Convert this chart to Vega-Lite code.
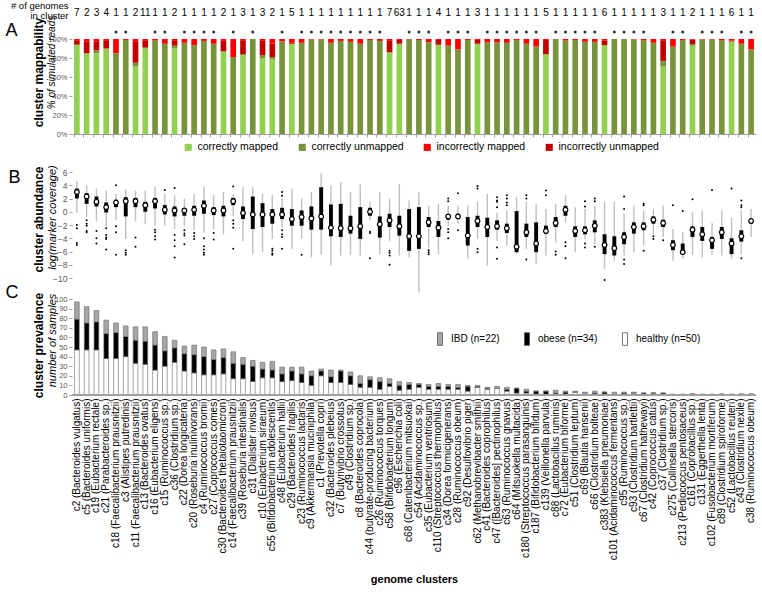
{
  "$schema": "https://vega.github.io/schema/vega-lite/v6.json",
  "padding": {"left": 5, "top": 0, "right": 2, "bottom": 2},
  "bounds": "flush",
  "spacing": 21,
  "resolve": {"scale": {"color": "independent"}, "legend": {"color": "independent"}},
  "config": {
    "font": "Liberation Sans",
    "view": {"stroke": null},
    "axis": {"labelColor": "#595959", "tickColor": "#a0a0a0", "titleColor": "#000000", "grid": false, "labelFont": "Liberation Sans", "titleFont": "Liberation Sans"},
    "legend": {"labelFont": "Liberation Sans", "labelColor": "#000000"}
  },
  "datasets": {
    "cl": [
      {"id":"c2 (Bacteroides vulgatus)","n":7,"star":false,"cm":94,"cu":0,"iu":4,"im":2,"lo":-0.1,"q1":2.0,"med":3.0,"q3":3.5,"hi":4.6,"out":[-2.0,-2.5,-4.7,-5.0],"healthy":47,"obese":32,"ibd":18},
      {"id":"c5 (Bacteroides uniformis)","n":2,"star":false,"cm":85,"cu":0,"iu":12,"im":3,"lo":-0.8,"q1":1.2,"med":2.3,"q3":2.8,"hi":4.0,"out":[-1.3,-1.8,-2.1,-2.9,-3.1],"healthy":47,"obese":28,"ibd":17},
      {"id":"c19 (Eubacterium rectale)","n":3,"star":false,"cm":85,"cu":3,"iu":9,"im":3,"lo":-1.4,"q1":0.8,"med":1.5,"q3":2.3,"hi":3.5,"out":[-2.9,-4.0,-4.8],"healthy":47,"obese":29,"ibd":12},
      {"id":"c21 (Parabacteroides sp.)","n":4,"star":false,"cm":90,"cu":0,"iu":8,"im":2,"lo":-2.2,"q1":-0.1,"med":0.7,"q3":1.4,"hi":3.2,"out":[-2.5,-3.5,-3.9,-4.1,-5.7],"healthy":38,"obese":26,"ibd":14},
      {"id":"c18 (Faecalibacterium prausnitzii)","n":1,"star":true,"cm":0,"cu":85,"iu":0,"im":15,"lo":-1.3,"q1":0.7,"med":1.4,"q3":1.8,"hi":2.7,"out":[4.0,-2.2,-3.1,-6.5],"healthy":38,"obese":27,"ibd":10},
      {"id":"c3 (Alistipes putredinis)","n":1,"star":true,"cm":0,"cu":99,"iu":0,"im":1,"lo":-4.1,"q1":-0.7,"med":1.6,"q3":2.2,"hi":3.4,"out":[-5.8,-6.2,-6.5],"healthy":40,"obese":21,"ibd":11},
      {"id":"c11 (Faecalibacterium prausnitzii)","n":2,"star":false,"cm":71,"cu":4,"iu":22,"im":3,"lo":-1.4,"q1":0.7,"med":1.6,"q3":2.1,"hi":3.2,"out":[-3.9,-5.3],"healthy":33,"obese":24,"ibd":14},
      {"id":"c13 (Bacteroides ovatus)","n":11,"star":false,"cm":90,"cu":1,"iu":7,"im":2,"lo":-1.9,"q1":0.0,"med":1.0,"q3":1.5,"hi":3.2,"out":[],"healthy":32,"obese":24,"ibd":15},
      {"id":"c16 (Eubacterium eligens)","n":1,"star":true,"cm":0,"cu":98.5,"iu":0,"im":1.5,"lo":-2.1,"q1":0.5,"med":1.6,"q3":2.1,"hi":3.8,"out":[-2.7,-3.1,-3.7,-4.2],"healthy":26,"obese":26,"ibd":14},
      {"id":"c15 (Ruminococcus sp.)","n":1,"star":true,"cm":0,"cu":95,"iu":0,"im":5,"lo":-2.1,"q1":-0.4,"med":0.3,"q3":1.0,"hi":2.7,"out":[3.3],"healthy":30,"obese":16,"ibd":15},
      {"id":"c36 (Clostridium sp.)","n":2,"star":false,"cm":90,"cu":3,"iu":5,"im":2,"lo":-2.6,"q1":-0.7,"med":0.2,"q3":0.8,"hi":2.5,"out":[3.6,-3.5,-4.3,-5.2,-6.9],"healthy":34,"obese":15,"ibd":8},
      {"id":"c22 (Dorea longicatena)","n":1,"star":true,"cm":0,"cu":96,"iu":0,"im":4,"lo":-2.1,"q1":-0.6,"med":0.2,"q3":0.5,"hi":2.0,"out":[-2.8,-3.3,-3.6,-4.9],"healthy":25,"obese":18,"ibd":8},
      {"id":"c20 (Roseburia inulinivorans)","n":1,"star":true,"cm":0,"cu":93.5,"iu":0,"im":6.5,"lo":-2.8,"q1":-0.6,"med":0.3,"q3":0.9,"hi":2.7,"out":[-3.2,-3.7,-4.1],"healthy":23,"obese":19,"ibd":10},
      {"id":"c4 (Ruminococcus bromii)","n":1,"star":true,"cm":0,"cu":98,"iu":0,"im":2,"lo":-3.1,"q1":-0.3,"med":0.9,"q3":1.7,"hi":3.8,"out":[-4.0,-5.2,-5.7,-6.2,-6.5],"healthy":21,"obese":19,"ibd":10},
      {"id":"c27 (Coprococcus comes)","n":1,"star":true,"cm":0,"cu":95,"iu":0,"im":5,"lo":-2.6,"q1":-0.5,"med":0.2,"q3":0.7,"hi":2.5,"out":[-3.2,-4.2],"healthy":21,"obese":16,"ibd":10},
      {"id":"c30 (Bacteroides thetaiotaomicron)","n":2,"star":false,"cm":87,"cu":0,"iu":11,"im":2,"lo":-3.4,"q1":-0.7,"med":0.2,"q3":0.9,"hi":3.0,"out":[],"healthy":22,"obese":17,"ibd":9},
      {"id":"c14 (Faecalibacterium prausnitzii)","n":1,"star":true,"cm":0,"cu":81,"iu":0,"im":19,"lo":-0.6,"q1":1.0,"med":1.6,"q3":2.1,"hi":2.7,"out":[3.8,-1.3,-1.8,-2.4,-5.6],"healthy":17,"obese":16,"ibd":12},
      {"id":"c39 (Roseburia intestinalis)","n":3,"star":false,"cm":83,"cu":1,"iu":14,"im":2,"lo":-4.4,"q1":-1.1,"med":-0.2,"q3":0.8,"hi":3.7,"out":[],"healthy":17,"obese":15,"ibd":7},
      {"id":"c31 (Dialister invisus)","n":1,"star":true,"cm":0,"cu":100,"iu":0,"im":0,"lo":-6.4,"q1":-2.6,"med":-0.4,"q3":2.3,"hi":3.7,"out":[],"healthy":14,"obese":16,"ibd":6},
      {"id":"c10 (Eubacterium siraeum)","n":3,"star":false,"cm":80,"cu":3,"iu":15,"im":2,"lo":-6.1,"q1":-2.3,"med":-0.4,"q3":1.3,"hi":2.7,"out":[],"healthy":18,"obese":9,"ibd":7},
      {"id":"c55 (Bifidobacterium adolescentis)","n":2,"star":false,"cm":79,"cu":2,"iu":14,"im":5,"lo":-4.1,"q1":-1.8,"med":-0.4,"q3":0.4,"hi":2.5,"out":[-5.6,-5.9,-6.3,-6.5],"healthy":18,"obese":8,"ibd":9},
      {"id":"c48 (Eubacterium hallii)","n":1,"star":true,"cm":0,"cu":97.5,"iu":0,"im":2.5,"lo":-2.3,"q1":-1.1,"med":-0.4,"q3":0.6,"hi":2.0,"out":[3.0,2.4,-2.8,-3.4,-3.8,-5.6],"healthy":14,"obese":8,"ibd":7},
      {"id":"c29 (Bacteroides fragilis)","n":5,"star":false,"cm":95,"cu":0,"iu":1,"im":4,"lo":-5.6,"q1":-2.1,"med":-1.1,"q3":0.4,"hi":3.5,"out":[],"healthy":15,"obese":10,"ibd":4},
      {"id":"c23 (Ruminococcus lactaris)","n":1,"star":true,"cm":0,"cu":96,"iu":0,"im":4,"lo":-4.1,"q1":-2.1,"med":-0.8,"q3":0.2,"hi":2.0,"out":[-6.5],"healthy":13,"obese":9,"ibd":7},
      {"id":"c9 (Akkermansia muciniphila)","n":1,"star":true,"cm":0,"cu":99.5,"iu":0,"im":0.5,"lo":-6.9,"q1":-2.7,"med":-1.0,"q3":0.8,"hi":3.0,"out":[],"healthy":10,"obese":10,"ibd":5},
      {"id":"c1 (Prevotella copri)","n":1,"star":true,"cm":0,"cu":99.5,"iu":0,"im":0.5,"lo":-6.4,"q1":-2.7,"med":-0.7,"q3":3.7,"hi":5.8,"out":[],"healthy":20,"obese":5,"ibd":2},
      {"id":"c32 (Bacteroides plebeius)","n":1,"star":true,"cm":0,"cu":96,"iu":0,"im":4,"lo":-8.1,"q1":-3.7,"med":-2.4,"q3":1.1,"hi":4.0,"out":[],"healthy":13,"obese":6,"ibd":7},
      {"id":"c7 (Butyrivibrio crossotus)","n":1,"star":true,"cm":0,"cu":98,"iu":0,"im":2,"lo":-6.6,"q1":-3.8,"med":-2.5,"q3":1.2,"hi":4.5,"out":[],"healthy":13,"obese":12,"ibd":1},
      {"id":"c49 (Clostridium sp.)","n":1,"star":true,"cm":0,"cu":97,"iu":0,"im":3,"lo":-6.5,"q1":-3.3,"med":-2.5,"q3":-0.6,"hi":3.0,"out":[],"healthy":11,"obese":9,"ibd":4},
      {"id":"c8 (Bacteroides coprocola)","n":1,"star":true,"cm":0,"cu":95,"iu":0,"im":5,"lo":-6.6,"q1":-4.1,"med":-2.2,"q3":0.7,"hi":4.1,"out":[],"healthy":8,"obese":4,"ibd":8},
      {"id":"c44 (butyrate-producing bacterium)","n":1,"star":true,"cm":0,"cu":99,"iu":0,"im":1,"lo":-1.3,"q1":-0.6,"med":0.0,"q3":0.6,"hi":1.5,"out":[-3.0,-3.2,-7.0],"healthy":8,"obese":8,"ibd":3},
      {"id":"c26 (Ruminococcus torques)","n":1,"star":true,"cm":0,"cu":98,"iu":0,"im":2,"lo":-6.4,"q1":-3.9,"med":-1.9,"q3":-0.7,"hi":3.0,"out":[],"healthy":6,"obese":8,"ibd":4},
      {"id":"c58 (Bifidobacterium longum)","n":7,"star":false,"cm":86,"cu":0,"iu":12,"im":2,"lo":-4.4,"q1":-2.3,"med":-1.3,"q3":-0.3,"hi":2.0,"out":[-5.9,-6.2,-6.6,-8.0],"healthy":9,"obese":3,"ibd":5},
      {"id":"c96 (Escherichia coli)","n":63,"star":false,"cm":95,"cu":0,"iu":4,"im":1,"lo":-6.6,"q1":-3.6,"med":-2.2,"q3":-0.6,"hi":4.2,"out":[],"healthy":5,"obese":5,"ibd":4},
      {"id":"c68 (Catenibacterium mitsuokai)","n":1,"star":true,"cm":0,"cu":99.5,"iu":0,"im":0.5,"lo":-6.9,"q1":-5.9,"med":-3.7,"q3":0.4,"hi":1.7,"out":[],"healthy":6,"obese":5,"ibd":2},
      {"id":"c54 (Acidaminococcus sp.)","n":1,"star":true,"cm":0,"cu":99,"iu":0,"im":1,"lo":-12.2,"q1":-5.6,"med":-3.7,"q3":0.7,"hi":3.0,"out":[],"healthy":8,"obese":3,"ibd":1},
      {"id":"c35 (Eubacterium ventriosum)","n":1,"star":true,"cm":0,"cu":96.5,"iu":0,"im":3.5,"lo":-5.4,"q1":-2.3,"med":-1.6,"q3":-0.8,"hi":0.9,"out":[-5.8,-6.1,-6.4],"healthy":6,"obese":3,"ibd":2},
      {"id":"c110 (Streptococcus thermophilus)","n":4,"star":false,"cm":94,"cu":0,"iu":5,"im":1,"lo":-6.4,"q1":-3.8,"med":-2.4,"q3":-1.4,"hi":1.2,"out":[],"healthy":6,"obese":3,"ibd":3},
      {"id":"c34 (Dorea formicigenerans)","n":1,"star":true,"cm":0,"cu":93,"iu":0,"im":7,"lo":-2.1,"q1":-1.2,"med":-0.7,"q3":-0.4,"hi":0.9,"out":[2.0,1.6,-2.6,-3.1,-4.0],"healthy":6,"obese":3,"ibd":2},
      {"id":"c28 (Ruminococcus obeum)","n":1,"star":true,"cm":0,"cu":89,"iu":0,"im":11,"lo":-1.8,"q1":-1.1,"med":-0.7,"q3":-0.3,"hi":0.9,"out":[2.8,-2.8],"healthy":6,"obese":2,"ibd":3},
      {"id":"c92 (Desulfovibrio piger)","n":1,"star":true,"cm":0,"cu":99,"iu":0,"im":1,"lo":-7.1,"q1":-5.1,"med":-3.6,"q3":-0.8,"hi":0.9,"out":[],"healthy":4,"obese":5,"ibd":1},
      {"id":"c62 (Methanobrevibacter smithii)","n":3,"star":false,"cm":95,"cu":0,"iu":4,"im":1,"lo":-4.1,"q1":-2.3,"med":-1.4,"q3":-0.6,"hi":1.5,"out":[3.9,3.5,-5.6,-6.1],"healthy":8,"obese":1,"ibd":1},
      {"id":"c41 (Bacteroides coprophilus)","n":1,"star":true,"cm":0,"cu":96.5,"iu":0,"im":3.5,"lo":-8.1,"q1":-3.8,"med":-2.3,"q3":-0.9,"hi":2.7,"out":[],"healthy":6,"obese":1,"ibd":1},
      {"id":"c47 ([Bacteroides] pectinophilus)","n":1,"star":true,"cm":0,"cu":96.5,"iu":0,"im":3.5,"lo":-4.4,"q1":-2.7,"med":-2.2,"q3":-1.3,"hi":-0.2,"out":[2.2,1.7,1.5,0.7,-5.4,-7.1],"healthy":7,"obese":0,"ibd":2},
      {"id":"c63 (Ruminococcus gnavus)","n":1,"star":true,"cm":0,"cu":96,"iu":0,"im":4,"lo":-5.1,"q1":-3.2,"med":-2.5,"q3":-1.8,"hi":0.2,"out":[2.5,2.0,1.4,1.0],"healthy":4,"obese":2,"ibd":2},
      {"id":"c64 (Mitsuokella multacida)","n":1,"star":true,"cm":0,"cu":99,"iu":0,"im":1,"lo":-6.4,"q1":-6.1,"med":-5.3,"q3":0.1,"hi":2.2,"out":[],"healthy":2,"obese":5,"ibd":0},
      {"id":"c180 (Streptococcus parasanguinis)","n":1,"star":true,"cm":0,"cu":95,"iu":0,"im":5,"lo":-5.6,"q1":-3.8,"med":-3.1,"q3":-1.8,"hi":1.5,"out":[2.5,2.0,-7.2],"healthy":2,"obese":2,"ibd":2},
      {"id":"c187 (Bifidobacterium bifidum)","n":1,"star":true,"cm":0,"cu":92,"iu":0,"im":8,"lo":-7.9,"q1":-6.1,"med":-4.8,"q3":-1.6,"hi":1.2,"out":[],"healthy":1,"obese":3,"ibd":0},
      {"id":"c139 (Veillonella parvula)","n":5,"star":false,"cm":84,"cu":0,"iu":15,"im":1,"lo":-6.6,"q1":-3.3,"med":-2.9,"q3":-2.1,"hi":0.4,"out":[3.2,2.5],"healthy":0,"obese":4,"ibd":0},
      {"id":"c88 (Lactobacillus ruminis)","n":1,"star":true,"cm":0,"cu":100,"iu":0,"im":0,"lo":-4.6,"q1":-2.3,"med":-1.7,"q3":-0.8,"hi":1.2,"out":[-6.0,-6.5],"healthy":1,"obese":1,"ibd":3},
      {"id":"c72 (Eubacterium biforme)","n":1,"star":true,"cm":0,"cu":98.5,"iu":0,"im":1.5,"lo":-1.6,"q1":-0.6,"med":0.3,"q3":0.9,"hi":2.5,"out":[-4.6,-5.2,-7.0],"healthy":1,"obese":2,"ibd":1},
      {"id":"c51 (Clostridium leptum)","n":1,"star":true,"cm":0,"cu":99,"iu":0,"im":1,"lo":-6.1,"q1":-3.8,"med":-2.9,"q3":-2.2,"hi":0.7,"out":[],"healthy":3,"obese":0,"ibd":1},
      {"id":"c69 (Blautia hansenii)","n":1,"star":true,"cm":0,"cu":97,"iu":0,"im":3,"lo":-4.2,"q1":-3.4,"med":-2.8,"q3":-2.2,"hi":0.4,"out":[1.6,0.8,-4.8,-5.4],"healthy":1,"obese":0,"ibd":2},
      {"id":"c66 (Clostridium bolteae)","n":1,"star":true,"cm":0,"cu":97,"iu":0,"im":3,"lo":-4.9,"q1":-3.1,"med":-2.1,"q3":-1.3,"hi":0.9,"out":[2.0,1.6,-5.3],"healthy":1,"obese":1,"ibd":2},
      {"id":"c383 (Klebsiella pneumoniae)","n":6,"star":false,"cm":93.5,"cu":0,"iu":5,"im":1.5,"lo":-8.6,"q1":-6.4,"med":-5.0,"q3":-3.4,"hi":1.5,"out":[-10.3],"healthy":1,"obese":2,"ibd":0},
      {"id":"c101 (Acidaminococcus fermentans)","n":1,"star":true,"cm":0,"cu":100,"iu":0,"im":0,"lo":-7.4,"q1":-6.6,"med":-5.5,"q3":-3.7,"hi":1.5,"out":[],"healthy":1,"obese":0,"ibd":2},
      {"id":"c95 (Ruminococcus sp.)","n":1,"star":true,"cm":0,"cu":100,"iu":0,"im":0,"lo":-6.6,"q1":-4.9,"med":-3.8,"q3":-3.1,"hi":-0.3,"out":[2.3,0.4,-7.2,-7.9],"healthy":1,"obese":1,"ibd":1},
      {"id":"c93 (Clostridium bartlettii)","n":1,"star":true,"cm":0,"cu":99.5,"iu":0,"im":0.5,"lo":-6.1,"q1":-3.3,"med":-2.3,"q3":-1.6,"hi":0.9,"out":[],"healthy":2,"obese":0,"ibd":1},
      {"id":"c67 (Clostridium hathewayi)","n":1,"star":true,"cm":0,"cu":98.5,"iu":0,"im":1.5,"lo":-5.1,"q1":-2.8,"med":-2.2,"q3":-1.6,"hi":0.2,"out":[1.2,1.0,-5.9],"healthy":0,"obese":2,"ibd":0},
      {"id":"c42 (Coprococcus catus)","n":1,"star":false,"cm":0,"cu":96,"iu":0,"im":4,"lo":-3.4,"q1":-1.8,"med":-1.2,"q3":-0.7,"hi":0.4,"out":[-3.7,-4.1],"healthy":2,"obese":0,"ibd":0},
      {"id":"c37 (Clostridium sp.)","n":3,"star":false,"cm":71,"cu":6,"iu":21,"im":2,"lo":-3.8,"q1":-2.3,"med":-1.7,"q3":-1.2,"hi":0.9,"out":[-4.3],"healthy":0,"obese":2,"ibd":0},
      {"id":"c275 (Collinsella stercoris)","n":1,"star":true,"cm":0,"cu":92,"iu":0,"im":8,"lo":-7.4,"q1":-5.8,"med":-5.0,"q3":-4.3,"hi":-2.6,"out":[1.0],"healthy":0,"obese":0,"ibd":1},
      {"id":"c213 (Pediococcus pentosaceus)","n":1,"star":true,"cm":0,"cu":99,"iu":0,"im":1,"lo":-7.1,"q1":-6.1,"med":-6.1,"q3":-4.8,"hi":-3.1,"out":[0.1],"healthy":0,"obese":0,"ibd":1},
      {"id":"c161 (Coprobacillus sp.)","n":2,"star":false,"cm":93,"cu":1.5,"iu":5,"im":0.5,"lo":-6.5,"q1":-3.8,"med":-2.7,"q3":-2.2,"hi":-0.1,"out":[1.9],"healthy":1,"obese":0,"ibd":0},
      {"id":"c131 (Eggerthella lenta)","n":1,"star":true,"cm":0,"cu":99.5,"iu":0,"im":0.5,"lo":-6.9,"q1":-4.4,"med":-3.4,"q3":-2.3,"hi":0.2,"out":[],"healthy":0,"obese":0,"ibd":1},
      {"id":"c102 (Fusobacterium mortiferum)","n":1,"star":true,"cm":0,"cu":99.5,"iu":0,"im":0.5,"lo":-6.5,"q1":-5.6,"med":-4.3,"q3":-3.8,"hi":-1.7,"out":[3.3],"healthy":0,"obese":0,"ibd":1},
      {"id":"c89 (Clostridium spiroforme)","n":1,"star":true,"cm":0,"cu":98.5,"iu":0,"im":1.5,"lo":-6.6,"q1":-4.1,"med":-3.1,"q3":-2.3,"hi":0.2,"out":[],"healthy":0,"obese":1,"ibd":0},
      {"id":"c52 (Lactobacillus reuteri)","n":6,"star":false,"cm":97.5,"cu":0,"iu":1,"im":1.5,"lo":-7.1,"q1":-6.4,"med":-4.8,"q3":-4.0,"hi":-0.9,"out":[3.5],"healthy":0,"obese":0,"ibd":1},
      {"id":"c43 (Clostridium nexile)","n":1,"star":true,"cm":0,"cu":95,"iu":0,"im":5,"lo":-6.4,"q1":-4.5,"med":-3.7,"q3":-2.8,"hi":0.2,"out":[1.7,1.0,0.7,-7.0],"healthy":0,"obese":1,"ibd":0},
      {"id":"c38 (Ruminococcus obeum)","n":1,"star":true,"cm":0,"cu":89,"iu":0,"im":11,"lo":-3.8,"q1":-1.8,"med":-1.4,"q3":-1.1,"hi":0.4,"out":[],"healthy":0,"obese":1,"ibd":0}
    ]
  },
  "vconcat": [
    {
      "width": 684,
      "height": 95,
      "data": {"name": "cl"},
      "layer": [
        {
          "transform": [{"fold": ["cm", "cu", "iu", "im"], "as": ["key", "pct"]}],
          "mark": {"type": "bar"},
          "encoding": {
            "x": {"field": "id", "type": "nominal", "sort": null, "scale": {"paddingInner": 0.42, "paddingOuter": 0.21},
                  "axis": {"orient": "bottom", "labels": false, "ticks": true, "tickSize": 3, "bandPosition": 0, "domain": true, "domainColor": "#a0a0a0", "tickColor": "#a0a0a0",
                           "title": "B", "titleFontSize": 18, "titleFontWeight": "normal", "titleAngle": 0, "titleAlign": "left", "titleBaseline": "alphabetic", "titleX": -64, "titleY": 48}},
            "y": {"field": "pct", "type": "quantitative", "stack": "zero", "scale": {"domain": [0, 100], "nice": false},
                  "axis": {"orient": "left", "values": [0, 20, 40, 60, 80, 100], "labelExpr": "datum.value + '%'", "labelFontSize": 7.5, "tickSize": 3, "labelPadding": 2, "domain": false,
                           "title": "cluster mappability", "titleFontWeight": "bold", "titleFontSize": 12, "titleAngle": -90, "titleAlign": "center", "titleBaseline": "middle", "titleX": -34, "titleY": 33}},
            "color": {"field": "key", "type": "nominal",
                      "scale": {"domain": ["cm", "cu", "im", "iu"], "range": ["#92d050", "#77933c", "#ff0000", "#c00000"]},
                      "legend": {"orient": "none", "legendX": 111, "legendY": 103, "direction": "horizontal", "title": null, "symbolType": "square", "symbolSize": 50, "symbolStrokeWidth": 0, "labelFontSize": 10.5, "columnPadding": 18, "padding": 0,
                                 "labelExpr": "datum.label == 'cm' ? 'correctly mapped' : datum.label == 'cu' ? 'correctly unmapped' : datum.label == 'im' ? 'incorrectly mapped' : 'incorrectly unmapped'"}},
            "order": {"field": "id", "type": "nominal"}
          }
        },
        {
          "mark": {"type": "text", "fontSize": 10, "color": "#000000"},
          "encoding": {
            "x": {"field": "id", "type": "nominal", "sort": null,
                  "axis": {"orient": "top", "labels": false, "ticks": false, "domain": false,
                           "title": "A", "titleFontSize": 18, "titleFontWeight": "normal", "titleAngle": 0, "titleAlign": "left", "titleBaseline": "alphabetic", "titleX": -67, "titleY": -4}},
            "y": {"datum": 127, "type": "quantitative",
                  "axis": {"orient": "left", "labels": false, "ticks": false, "domain": false, "title": ["# of genomes", "in cluster"], "titleFontWeight": "normal", "titleFontSize": 9.5, "titleAngle": 0, "titleAlign": "right", "titleBaseline": "alphabetic", "titleLineHeight": 10.5, "titleX": -4, "titleY": -31}},
            "text": {"field": "n", "type": "quantitative"}
          }
        },
        {
          "transform": [{"filter": "datum.star"}],
          "mark": {"type": "point", "filled": true, "size": 9, "color": "#333333", "opacity": 1},
          "encoding": {
            "x": {"field": "id", "type": "nominal", "sort": null, "axis": null},
            "y": {"datum": 107.5, "type": "quantitative",
                  "axis": {"orient": "left", "labels": false, "ticks": false, "domain": false, "title": "% of simulated reads", "titleFontStyle": "italic", "titleFontWeight": "normal", "titleFontSize": 10, "titleAngle": -90, "titleAlign": "center", "titleBaseline": "middle", "titleX": -21, "titleY": 23}}
          }
        }
      ],
      "resolve": {"axis": {"y": "independent", "x": "independent"}}
    },
    {
      "width": 684,
      "height": 123,
      "data": {"name": "cl"},
      "layer": [
        {
          "mark": {"type": "rule", "color": "#bfbfbf", "strokeWidth": 1.4},
          "encoding": {
            "x": {"field": "id", "type": "nominal", "sort": null, "scale": {"paddingInner": 0.6, "paddingOuter": 0.3},
                  "axis": {"orient": "bottom", "labels": false, "ticks": false, "domain": false,
                           "title": "C", "titleFontSize": 18, "titleFontWeight": "normal", "titleAngle": 0, "titleAlign": "left", "titleBaseline": "alphabetic", "titleX": -67, "titleY": 19}},
            "y": {"field": "lo", "type": "quantitative", "scale": {"domain": [-10, 8.57], "nice": false, "zero": false},
                  "axis": {"orient": "left", "values": [-10, -8, -6, -4, -2, 0, 2, 4, 6], "labelFontSize": 8.5, "tickSize": 3, "labelPadding": 2, "domain": false,
                           "title": "cluster abundance", "titleFontWeight": "bold", "titleFontSize": 12, "titleAngle": -90, "titleAlign": "center", "titleBaseline": "middle", "titleX": -34, "titleY": 64}},
            "y2": {"field": "hi"}
          }
        },
        {
          "mark": {"type": "bar", "color": "#000000"},
          "encoding": {
            "x": {"field": "id", "type": "nominal", "sort": null},
            "y": {"field": "q1", "type": "quantitative",
                  "axis": {"orient": "left", "labels": false, "ticks": false, "domain": false, "title": "log(marker coverage)", "titleFontStyle": "italic", "titleFontWeight": "normal", "titleFontSize": 11, "titleAngle": -90, "titleAlign": "center", "titleBaseline": "middle", "titleX": -20, "titleY": 62}},
            "y2": {"field": "q3"}
          }
        },
        {
          "mark": {"type": "point", "filled": true, "fill": "#ffffff", "stroke": "#000000", "strokeWidth": 1.2, "size": 22, "opacity": 1},
          "encoding": {
            "x": {"field": "id", "type": "nominal", "sort": null},
            "y": {"field": "med", "type": "quantitative", "axis": null}
          }
        },
        {
          "transform": [{"flatten": ["out"], "as": ["v"]}],
          "mark": {"type": "point", "filled": true, "color": "#000000", "size": 4, "opacity": 1},
          "encoding": {
            "x": {"field": "id", "type": "nominal", "sort": null},
            "y": {"field": "v", "type": "quantitative", "axis": null}
          }
        }
      ],
      "resolve": {"axis": {"y": "independent"}}
    },
    {
      "width": 684,
      "height": 96,
      "data": {"name": "cl"},
      "layer": [
        {
          "transform": [{"fold": ["healthy", "obese", "ibd"], "as": ["grp", "cnt"]}],
          "mark": {"type": "bar", "stroke": "#666666", "strokeWidth": 0.6},
          "encoding": {
            "x": {"field": "id", "type": "nominal", "sort": null, "scale": {"paddingInner": 0.52, "paddingOuter": 0.26},
                  "axis": {"title": "genome clusters", "labelAngle": -90, "labelFontSize": 10, "labelColor": "#000000", "labelLimit": 300, "labelPadding": 3, "ticks": false, "domain": true, "domainColor": "#a0a0a0",
                           "titleFontWeight": "bold", "titleFontSize": 11, "titleY": 187, "titleBaseline": "alphabetic"}},
            "y": {"field": "cnt", "type": "quantitative", "stack": "zero", "scale": {"domain": [0, 100], "nice": false},
                  "axis": {"orient": "left", "values": [0, 10, 20, 30, 40, 50, 60, 70, 80, 90, 100], "labelFontSize": 7.5, "tickSize": 3, "labelPadding": 2, "domain": false,
                           "title": "cluster prevalence", "titleFontWeight": "bold", "titleFontSize": 12, "titleAngle": -90, "titleAlign": "center", "titleBaseline": "middle", "titleX": -34, "titleY": 46}},
            "color": {"field": "grp", "type": "nominal",
                      "scale": {"domain": ["ibd", "obese", "healthy"], "range": ["#a6a6a6", "#000000", "#ffffff"]},
                      "legend": {"orient": "none", "legendX": 361, "legendY": 33, "direction": "horizontal", "title": null, "symbolType": "M-0.4,-1H0.4V1H-0.4Z", "symbolSize": 160, "symbolStrokeColor": "#555555", "symbolStrokeWidth": 0.8, "labelFontSize": 10, "columnPadding": 20, "padding": 0,
                                 "labelExpr": "datum.label == 'ibd' ? 'IBD (n=22)' : datum.label == 'obese' ? 'obese (n=34)' : 'healthy (n=50)'"}},
            "order": {"field": "id", "type": "nominal"}
          }
        },
        {
          "mark": {"type": "rule", "color": "#a0a0a0"},
          "encoding": {
            "y": {"datum": 0, "type": "quantitative",
                  "axis": {"orient": "left", "labels": false, "ticks": false, "domain": false, "title": "number of samples", "titleFontStyle": "italic", "titleFontWeight": "normal", "titleFontSize": 11, "titleAngle": -90, "titleAlign": "center", "titleBaseline": "middle", "titleX": -20, "titleY": 41}}
          }
        }
      ],
      "resolve": {"axis": {"y": "independent"}}
    }
  ]
}
